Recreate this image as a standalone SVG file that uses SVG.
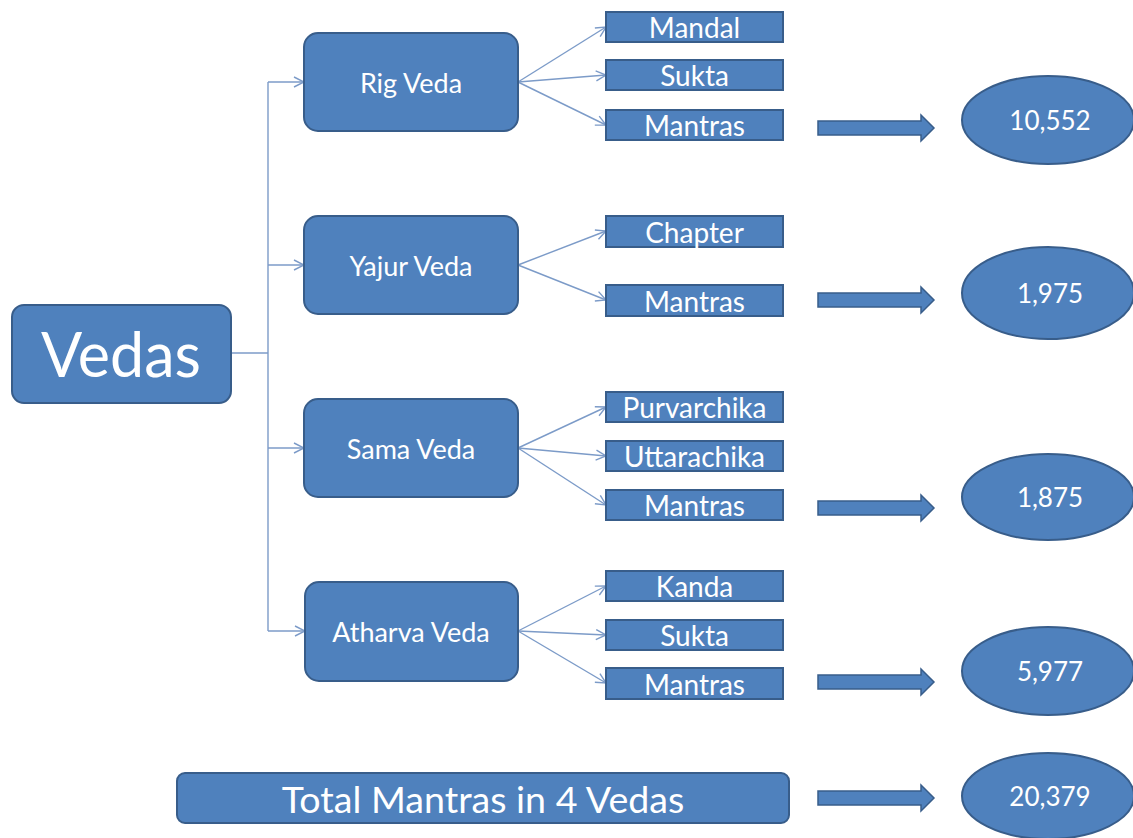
<svg xmlns="http://www.w3.org/2000/svg" width="1133" height="838" viewBox="0 0 1133 838">
<defs>
<style>
.box{fill:#4F81BD;stroke:#385D8A;stroke-width:2}
.txt{fill:#FFFFFF;font-family:Lato,"Open Sans",sans-serif;text-anchor:middle;dominant-baseline:central}
.conn{fill:none;stroke:#7C9BC8;stroke-width:1.4}
.blk{fill:#4F81BD;stroke:#385D8A;stroke-width:1.5}
</style>
<marker id="oa" viewBox="0 0 12 12" refX="11" refY="6" markerWidth="12" markerHeight="12" markerUnits="userSpaceOnUse" orient="auto">
<path d="M1,1 L11,6 L1,11" fill="none" stroke="#7C9BC8" stroke-width="1.4"/>
</marker>
</defs>
<rect width="1133" height="838" fill="#FFFFFF"/>
<g id="connectors">
<path class="conn" d="M231,353 H268"/>
<path class="conn" d="M268,82 V631"/>
<path class="conn" d="M268,82 H304" marker-end="url(#oa)"/>
<path class="conn" d="M268,265 H304" marker-end="url(#oa)"/>
<path class="conn" d="M268,448 H304" marker-end="url(#oa)"/>
<path class="conn" d="M268,631 H305" marker-end="url(#oa)"/>
<path class="conn" d="M518,82 L606,27" marker-end="url(#oa)"/>
<path class="conn" d="M518,82 L606,75" marker-end="url(#oa)"/>
<path class="conn" d="M518,82 L606,125" marker-end="url(#oa)"/>
<path class="conn" d="M518,265 L606,231" marker-end="url(#oa)"/>
<path class="conn" d="M518,265 L606,300" marker-end="url(#oa)"/>
<path class="conn" d="M518,448 L606,407" marker-end="url(#oa)"/>
<path class="conn" d="M518,448 L606,456" marker-end="url(#oa)"/>
<path class="conn" d="M518,448 L606,505" marker-end="url(#oa)"/>
<path class="conn" d="M518,631 L606,586" marker-end="url(#oa)"/>
<path class="conn" d="M518,631 L606,635" marker-end="url(#oa)"/>
<path class="conn" d="M518,631 L606,683" marker-end="url(#oa)"/>
<path class="blk" d="M818,121 H921 V115 L934,128 L921,141 V135 H818 Z"/>
<path class="blk" d="M818,293 H921 V287 L934,300 L921,313 V307 H818 Z"/>
<path class="blk" d="M818,501 H921 V495 L934,508 L921,521 V515 H818 Z"/>
<path class="blk" d="M818,675 H921 V669 L934,682 L921,695 V689 H818 Z"/>
<path class="blk" d="M818,791 H921 V785 L934,798 L921,811 V805 H818 Z"/>
</g>
<g id="vedas"><rect class="box" x="12" y="305" width="219" height="98" rx="12"/><text class="txt" x="121" y="353" font-size="61">Vedas</text></g>
<g id="rig"><rect class="box" x="304" y="33" width="214" height="98" rx="14"/><text class="txt" x="411" y="82" font-size="27">Rig Veda</text></g>
<g id="yajur"><rect class="box" x="304" y="216" width="214" height="98" rx="14"/><text class="txt" x="411" y="265" font-size="27">Yajur Veda</text></g>
<g id="sama"><rect class="box" x="304" y="399" width="214" height="98" rx="14"/><text class="txt" x="411" y="448" font-size="27">Sama Veda</text></g>
<g id="atharva"><rect class="box" x="305" y="582" width="213" height="99" rx="14"/><text class="txt" x="411" y="631" font-size="27">Atharva Veda</text></g>
<g id="rig-mandal"><rect class="box" x="606" y="12" width="177" height="30"/><text class="txt" x="694.5" y="27" font-size="28">Mandal</text></g>
<g id="rig-sukta"><rect class="box" x="606" y="60" width="177" height="30"/><text class="txt" x="694.5" y="75" font-size="28">Sukta</text></g>
<g id="rig-mantras"><rect class="box" x="606" y="110" width="177" height="30"/><text class="txt" x="694.5" y="125" font-size="28">Mantras</text></g>
<g id="yajur-chapter"><rect class="box" x="606" y="216" width="177" height="31"/><text class="txt" x="694.5" y="231.5" font-size="28">Chapter</text></g>
<g id="yajur-mantras"><rect class="box" x="606" y="285" width="177" height="31"/><text class="txt" x="694.5" y="300.5" font-size="28">Mantras</text></g>
<g id="sama-purvarchika"><rect class="box" x="606" y="392" width="177" height="30"/><text class="txt" x="694.5" y="407" font-size="28">Purvarchika</text></g>
<g id="sama-uttarachika"><rect class="box" x="606" y="441" width="177" height="30"/><text class="txt" x="694.5" y="456" font-size="28">Uttarachika</text></g>
<g id="sama-mantras"><rect class="box" x="606" y="490" width="177" height="30"/><text class="txt" x="694.5" y="505" font-size="28">Mantras</text></g>
<g id="atharva-kanda"><rect class="box" x="606" y="571" width="177" height="30"/><text class="txt" x="694.5" y="586" font-size="28">Kanda</text></g>
<g id="atharva-sukta"><rect class="box" x="606" y="620" width="177" height="30"/><text class="txt" x="694.5" y="635" font-size="28">Sukta</text></g>
<g id="atharva-mantras"><rect class="box" x="606" y="668" width="177" height="31"/><text class="txt" x="694.5" y="683.5" font-size="28">Mantras</text></g>
<g id="total"><rect class="box" x="177" y="773" width="612" height="50" rx="8"/><text class="txt" x="483" y="798" font-size="37.6">Total Mantras in 4 Vedas</text></g>
<g id="n-rig"><ellipse class="box" cx="1048" cy="120" rx="86" ry="44"/><text class="txt" x="1050" y="120" font-size="26">10,552</text></g>
<g id="n-yajur"><ellipse class="box" cx="1048" cy="293" rx="86" ry="46"/><text class="txt" x="1050" y="293" font-size="26">1,975</text></g>
<g id="n-sama"><ellipse class="box" cx="1048" cy="497" rx="86" ry="43"/><text class="txt" x="1050" y="497" font-size="26">1,875</text></g>
<g id="n-atharva"><ellipse class="box" cx="1048" cy="671" rx="86" ry="44"/><text class="txt" x="1050" y="671" font-size="26">5,977</text></g>
<g id="n-total"><ellipse class="box" cx="1048" cy="796" rx="86" ry="43"/><text class="txt" x="1050" y="796" font-size="26">20,379</text></g>
</svg>
